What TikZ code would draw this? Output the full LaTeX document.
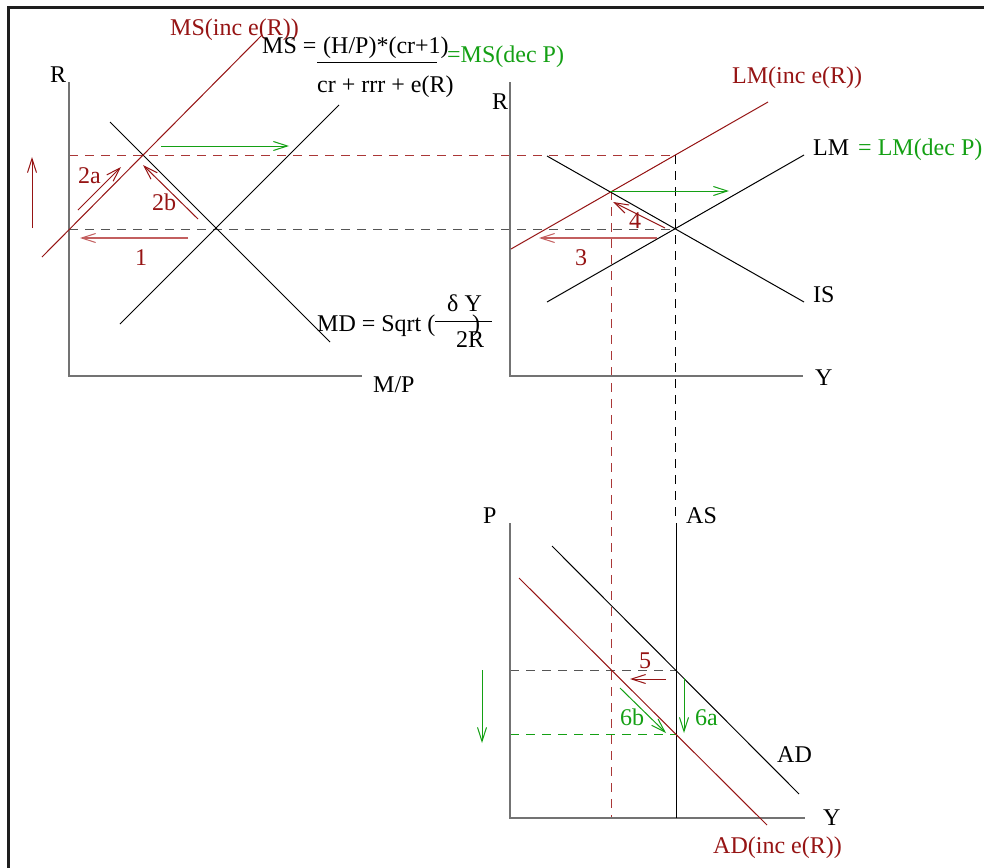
\documentclass[tikz,border=0pt]{standalone}
\usepackage{fontspec}
\setmainfont{Liberation Serif}
\usetikzlibrary{arrows.meta}
\definecolor{dred}{RGB}{150,20,20}
\definecolor{dashred}{RGB}{170,55,55}
\definecolor{lred}{RGB}{195,95,95}
\definecolor{dgreen}{RGB}{20,160,20}
\definecolor{axisgray}{RGB}{115,115,115}
\definecolor{dashgray}{RGB}{85,85,85}
\definecolor{frame}{RGB}{30,30,30}
\begin{document}
\begin{tikzpicture}[x=1pt,y=-1pt,
  curve/.style={line width=1pt},
  axis/.style={draw=axisgray,line width=1.6pt},
  dsh/.style={dash pattern=on 9pt off 7pt, line width=1pt},
  arr/.style={-{Straight Barb[length=14pt,width=9pt]}, line width=1pt},
  thickarr/.style={-{Straight Barb[length=14pt,width=9pt,line width=1pt]}, line width=2pt, draw=lred},
  lbl/.style={anchor=base west, inner sep=0pt, font=\fontsize{24}{28}\selectfont},
]
\useasboundingbox (0,0) rectangle (984,867);
\clip (0,0) rectangle (984,867);
\fill[white] (0,0) rectangle (984,867);
% frame
\draw[frame, line width=3pt] (8.5,900) -- (8.5,7.5) -- (1000,7.5);

% ---------- dashed guide lines ----------
\coordinate (hA1) at (69,155);  \coordinate (hA2) at (673,155);
\coordinate (hB1) at (69,229);  \coordinate (hB2) at (675,229);
\draw[dsh, dashred] (hA1) -- (hA2);
\draw[dsh, dashgray] (hB1) -- (hB2);
\coordinate (vA1) at (611,191); \coordinate (vA2) at (611,818);
\draw[dsh, dashred] (vA1) -- (vA2);
\coordinate (vB1) at (675,155); \coordinate (vB2) at (675,523);
\draw[dsh, black] (vB1) -- (vB2);
\coordinate (hC1) at (510,670); \coordinate (hC2) at (676,670);
\draw[dsh, dashgray] (hC1) -- (hC2);
\coordinate (hD1) at (510,734); \coordinate (hD2) at (676,734);
\draw[dsh, dgreen] (hD1) -- (hD2);

% ---------- top-left graph ----------
\coordinate (oL) at (69,376);
\coordinate (yL) at (69,82);
\coordinate (xL) at (362,376);
\draw[axis] (yL) -- (oL) -- (xL);
\node[lbl] (Rl) at (50,82) {R};
\node[lbl] (MP) at (373,392) {M/P};

\coordinate (md1) at (110,122); \coordinate (md2) at (330,342);
\draw[curve] (md1) -- (md2);
\coordinate (ms1) at (120,324); \coordinate (ms2) at (339,105);
\draw[curve] (ms1) -- (ms2);
\coordinate (msr1) at (42,257); \coordinate (msr2) at (262,35);
\draw[curve, dred] (msr1) -- (msr2);

% arrows left
\coordinate (a1s) at (188,238); \coordinate (a1e) at (80,238);
\draw[thickarr] (a1s) -- (a1e);
\node[lbl, dred] (l1) at (135,265) {1};
\coordinate (a2as) at (78,210); \coordinate (a2ae) at (121,167);
\draw[arr, dred] (a2as) -- (a2ae);
\node[lbl, dred] (l2a) at (78,183) {2a};
\coordinate (a2bs) at (198,219); \coordinate (a2be) at (143,165);
\draw[arr, dred] (a2bs) -- (a2be);
\node[lbl, dred] (l2b) at (152,210) {2b};
\coordinate (upS) at (32,228); \coordinate (upE) at (32,157);
\draw[arr, dred] (upS) -- (upE);
\coordinate (gS) at (161,146); \coordinate (gE) at (289,146);
\draw[arr, dgreen] (gS) -- (gE);

% labels left
\node[lbl, dred] (msinc) at (170,36) {MS(inc e(R))};
\node[lbl] (MSeq) at (262,54) {MS =};
\node[lbl] (num) at (323,54) {(H/P)*(cr+1)};
\coordinate (bar1) at (317,62.5); \coordinate (bar2) at (437,62.5);
\draw[line width=1pt] (bar1) -- (bar2);
\node[lbl] (den) at (317,92) {cr + rrr + e(R)};
\node[lbl, dgreen] (msdec) at (447,63) {=MS(dec P)};
\node[lbl] (MDeq) at (317,331) {MD = Sqrt (};
\node[lbl] (dY) at (447,311) {δ Y};
\coordinate (bar3) at (435,321); \coordinate (bar4) at (492,321);
\draw[line width=1pt] (bar3) -- (bar4);
\node[lbl] (rp) at (472,331) {)};
\node[lbl] (twoR) at (456,347) {2R};

% ---------- top-right graph ----------
\coordinate (oR) at (510,376);
\coordinate (yR) at (510,82);
\coordinate (xR) at (803,376);
\draw[axis] (yR) -- (oR) -- (xR);
\node[lbl] (Rr) at (492,109) {R};
\node[lbl] (Yr) at (815,385) {Y};

\coordinate (is1) at (547,156); \coordinate (is2) at (804,302);
\draw[curve] (is1) -- (is2);
\coordinate (lm1) at (547,302); \coordinate (lm2) at (804,155);
\draw[curve] (lm1) -- (lm2);
\coordinate (lmr1) at (511,249); \coordinate (lmr2) at (768,102);
\draw[curve, dred] (lmr1) -- (lmr2);

\coordinate (g2S) at (610,191); \coordinate (g2E) at (729,191);
\draw[arr, dgreen] (g2S) -- (g2E);
\coordinate (a3s) at (657,238); \coordinate (a3e) at (539,238);
\draw[thickarr] (a3s) -- (a3e);
\node[lbl, dred] (l3) at (575,265) {3};
\coordinate (a4s) at (665,228); \coordinate (a4e) at (613,202);
\draw[arr, dred] (a4s) -- (a4e);
\node[lbl, dred] (l4) at (629,228) {4};

\node[lbl, dred] (lminc) at (732,83) {LM(inc e(R))};
\node[lbl] (LM) at (813,155) {LM};
\node[lbl, dgreen] (lmdec) at (858,155) {= LM(dec P)};
\node[lbl] (IS) at (813,302) {IS};

% ---------- bottom graph ----------
\coordinate (oB) at (510,818);
\coordinate (yB) at (510,523);
\coordinate (xB) at (805,818);
\draw[axis] (yB) -- (oB) -- (xB);
\node[lbl] (P) at (483,523) {P};
\node[lbl] (Yb) at (823,825) {Y};

\coordinate (as1) at (676,523); \coordinate (as2) at (676,818);
\draw[curve] (as1) -- (as2);
\node[lbl] (AS) at (686,523) {AS};
\coordinate (ad1) at (552,546); \coordinate (ad2) at (799,794);
\draw[curve] (ad1) -- (ad2);
\node[lbl] (AD) at (777,762) {AD};
\coordinate (adr1) at (519,578); \coordinate (adr2) at (767,825);
\draw[curve, dred] (adr1) -- (adr2);
\node[lbl, dred] (adinc) at (713,853) {AD(inc e(R))};

\coordinate (a5s) at (666,679); \coordinate (a5e) at (630,679);
\draw[arr, dred] (a5s) -- (a5e);
\node[lbl, dred] (l5) at (639,668) {5};
\coordinate (a6as) at (684,678); \coordinate (a6ae) at (684,733);
\draw[arr, dgreen] (a6as) -- (a6ae);
\node[lbl, dgreen] (l6a) at (695,725) {6a};
\coordinate (a6bs) at (620,688); \coordinate (a6be) at (666,733);
\draw[arr, dgreen] (a6bs) -- (a6be);
\node[lbl, dgreen] (l6b) at (620,725) {6b};
\coordinate (dnS) at (482,670); \coordinate (dnE) at (482,743);
\draw[arr, dgreen] (dnS) -- (dnE);
\end{tikzpicture}
\end{document}
